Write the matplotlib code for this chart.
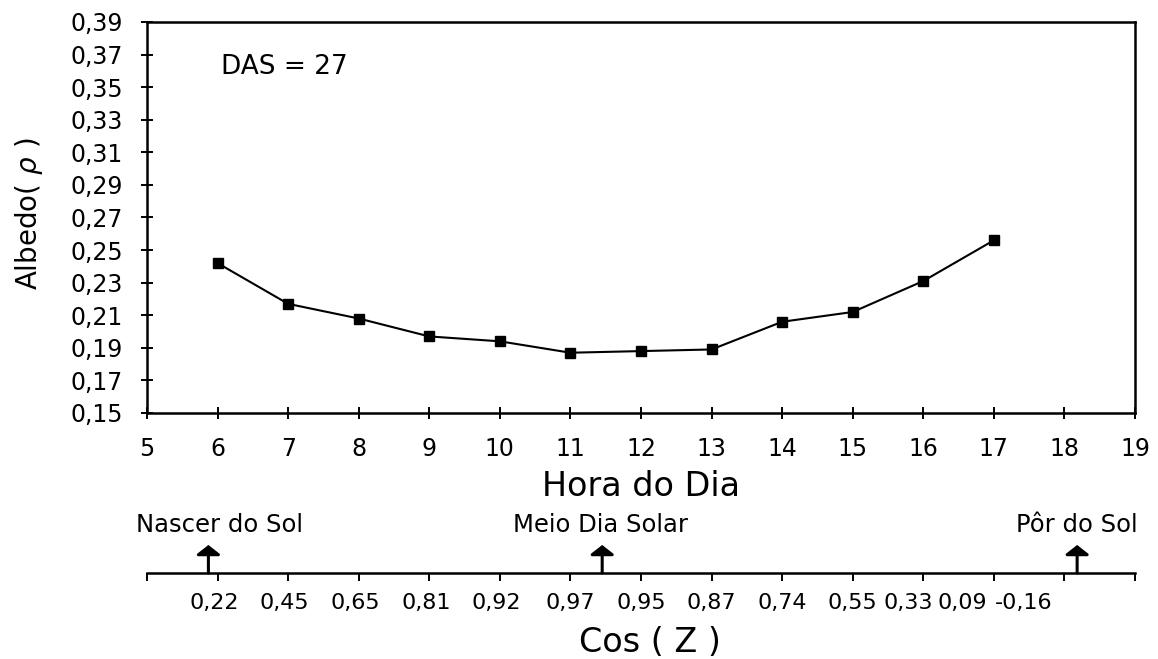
import matplotlib.pyplot as plt
from matplotlib.ticker import FuncFormatter, MultipleLocator
from matplotlib.transforms import blended_transform_factory

# albedo ao longo do dia
hora = [6, 7, 8, 9, 10, 11, 12, 13, 14, 15, 16, 17]
albedo = [0.242, 0.217, 0.208, 0.197, 0.194, 0.187, 0.188, 0.189,
          0.206, 0.212, 0.231, 0.256]
albedo_ticks = [0.15, 0.17, 0.19, 0.21, 0.23, 0.25, 0.27, 0.29, 0.31,
                0.33, 0.35, 0.37, 0.39]

# cosseno do angulo zenital, escrito por baixo do eixo das horas
cos_z = ['0,22', '0,45', '0,65', '0,81', '0,92', '0,97', '0,95',
         '0,87', '0,74', '0,55', '0,33', '0,09', '-0,16']
cos_z_x = [5.95, 6.95, 7.95, 8.95, 9.95, 11.0, 12.0, 13.0, 14.0, 15.0,
           15.78, 16.55, 17.42]

eventos = ['Nascer do Sol', 'Meio Dia Solar', 'Pôr do Sol']
eventos_hora = [5.87, 11.45, 18.18]
eventos_texto_x = [6.03, 11.42, 18.18]

W, H = 1158, 659
fig = plt.figure(figsize=(W / 100, H / 100), dpi=100)
plt.rcParams['font.family'] = ['DejaVu Sans']

left, right, top, bottom = 147, 1135, 22, 413
ax = fig.add_axes([left / W, 1 - bottom / H, (right - left) / W, (bottom - top) / H])

ax.plot(hora, albedo, color='black', lw=1.5, marker='s', ms=7.5,
        mfc='black', mec='black')

ax.set_xlim(5, 19)
ax.set_ylim(0.15, 0.39)
ax.xaxis.set_major_locator(MultipleLocator(1))
ax.set_yticks(albedo_ticks)
ax.yaxis.set_major_formatter(FuncFormatter(lambda v, p: f'{v:.2f}'.replace('.', ',')))
ax.tick_params(axis='both', direction='inout', length=9, width=1.4,
               labelsize=17, colors='black')
ax.tick_params(axis='y', pad=13)
ax.tick_params(axis='x', pad=13)
for s in ax.spines.values():
    s.set_linewidth(1.8)

ax.text(0.075, 0.885, 'DAS = 27', transform=ax.transAxes, fontsize=19,
        va='center', ha='left')

fig.text(29 / W, 1 - 214 / H, 'Albedo( $\\rho$ )', rotation=90, fontsize=20,
         ha='center', va='center')
fig.text(641 / W, 1 - 486 / H, 'Hora do Dia', fontsize=24, ha='center', va='center')
fig.text(650 / W, 1 - 642 / H, 'Cos ( Z )', fontsize=24, ha='center', va='center')

# eixo auxiliar do cos(Z)
linha_y = 1 - 573 / H
ax2 = fig.add_axes([left / W, linha_y, (right - left) / W, 0.0001])
ax2.set_xlim(5, 19)
ax2.xaxis.set_major_locator(MultipleLocator(1))
ax2.set_xticklabels([])
ax2.set_yticks([])
for k in ['top', 'left', 'right']:
    ax2.spines[k].set_visible(False)
ax2.spines['bottom'].set_linewidth(1.8)
ax2.tick_params(axis='x', direction='out', length=6, width=1.4)
ax2.patch.set_visible(False)

trans = blended_transform_factory(ax.transData, fig.transFigure)
for lab, xv in zip(cos_z, cos_z_x):
    fig.text(xv, 1 - 603 / H, lab, transform=trans, fontsize=16,
             ha='center', va='center')

for nome, xh, xt in zip(eventos, eventos_hora, eventos_texto_x):
    ax.annotate('', xy=(xh, 1 - 545 / H), xytext=(xh, linha_y),
                xycoords=trans, textcoords=trans,
                arrowprops=dict(arrowstyle='-|>,head_length=0.35,head_width=0.45',
                                mutation_scale=16, lw=2.2, color='black',
                                shrinkA=0, shrinkB=0))
    fig.text(xt, 1 - 525 / H, nome, transform=trans, fontsize=17.5,
             ha='center', va='center')

fig.savefig('out.png', dpi=100)
